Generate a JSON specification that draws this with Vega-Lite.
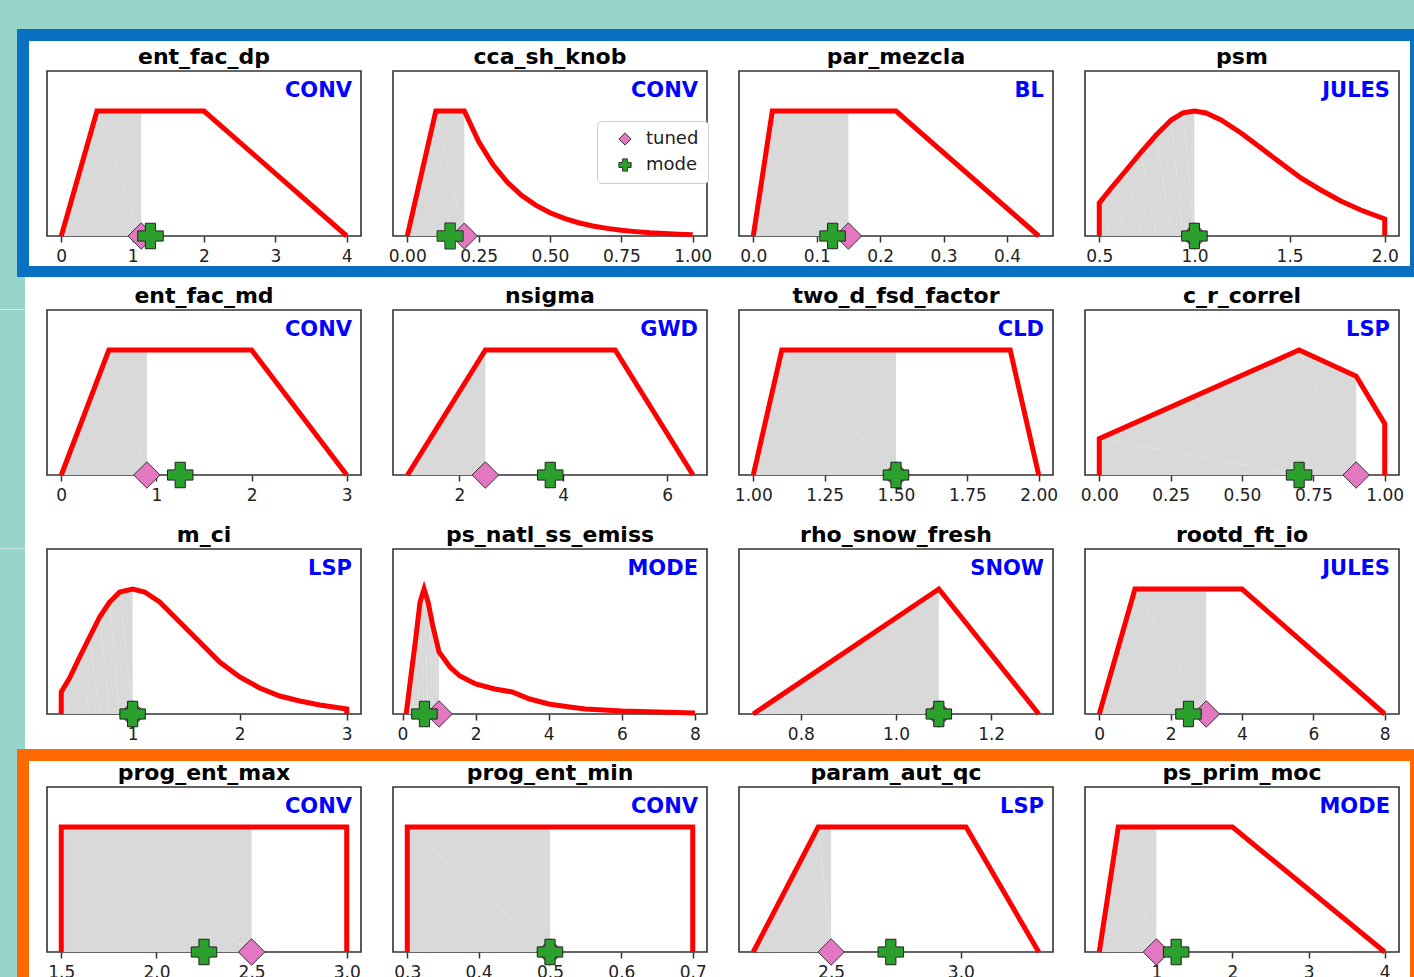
{
"$schema": "https://vega.github.io/schema/vega-lite/v6.json",
"padding": 0,
"background": "#ffffff",
"columns": 12,
"spacing": 0,
"bounds": "flush",
"align": "each",
"config": {
  "font": "DejaVu Sans",
  "view": {"stroke": "#333333", "strokeWidth": 1.6},
  "title": {"fontSize": 22, "fontWeight": "bold", "font": "DejaVu Sans", "color": "#000000", "offset": 2, "anchor": "middle"},
  "axis": {"domain": false, "grid": false, "tickSize": 6, "tickWidth": 1.5, "tickColor": "#333333", "labelFontSize": 17, "labelFont": "DejaVu Sans", "labelColor": "#222222", "labelPadding": 6, "title": null, "labelFlush": false, "labelOverlap": false, "labelBound": false}
},
"datasets": {
  "curves": [
    {"p":"ent_fac_dp","i":0,"x":0,"y":0},{"p":"ent_fac_dp","i":1,"x":0.5,"y":1},{"p":"ent_fac_dp","i":2,"x":1.12,"y":1},{"p":"ent_fac_dp","i":3,"x":2,"y":1},{"p":"ent_fac_dp","i":4,"x":4,"y":0},
    {"p":"cca_sh_knob","i":0,"x":0,"y":0},{"p":"cca_sh_knob","i":1,"x":0.1,"y":1},{"p":"cca_sh_knob","i":2,"x":0.2,"y":1},{"p":"cca_sh_knob","i":3,"x":0.25,"y":0.756},{"p":"cca_sh_knob","i":4,"x":0.3,"y":0.571},{"p":"cca_sh_knob","i":5,"x":0.35,"y":0.432},{"p":"cca_sh_knob","i":6,"x":0.4,"y":0.326},{"p":"cca_sh_knob","i":7,"x":0.45,"y":0.247},{"p":"cca_sh_knob","i":8,"x":0.5,"y":0.186},{"p":"cca_sh_knob","i":9,"x":0.55,"y":0.141},{"p":"cca_sh_knob","i":10,"x":0.6,"y":0.106},{"p":"cca_sh_knob","i":11,"x":0.65,"y":0.08},{"p":"cca_sh_knob","i":12,"x":0.7,"y":0.061},{"p":"cca_sh_knob","i":13,"x":0.75,"y":0.046},{"p":"cca_sh_knob","i":14,"x":0.8,"y":0.035},{"p":"cca_sh_knob","i":15,"x":0.85,"y":0.026},{"p":"cca_sh_knob","i":16,"x":0.9,"y":0.02},{"p":"cca_sh_knob","i":17,"x":0.95,"y":0.015},{"p":"cca_sh_knob","i":18,"x":1.0,"y":0.011},
    {"p":"par_mezcla","i":0,"x":0,"y":0},{"p":"par_mezcla","i":1,"x":0.03,"y":1},{"p":"par_mezcla","i":2,"x":0.15,"y":1},{"p":"par_mezcla","i":3,"x":0.225,"y":1},{"p":"par_mezcla","i":4,"x":0.45,"y":0},
    {"p":"psm","i":0,"x":0.5,"y":0},{"p":"psm","i":1,"x":0.5,"y":0.264},{"p":"psm","i":2,"x":0.563,"y":0.384},{"p":"psm","i":3,"x":0.642,"y":0.528},{"p":"psm","i":4,"x":0.72,"y":0.672},{"p":"psm","i":5,"x":0.799,"y":0.808},{"p":"psm","i":6,"x":0.878,"y":0.928},{"p":"psm","i":7,"x":0.94,"y":0.985},{"p":"psm","i":8,"x":1.0,"y":1.0},{"p":"psm","i":9,"x":1.061,"y":0.984},{"p":"psm","i":10,"x":1.14,"y":0.928},{"p":"psm","i":11,"x":1.245,"y":0.824},{"p":"psm","i":12,"x":1.35,"y":0.704},{"p":"psm","i":13,"x":1.454,"y":0.584},{"p":"psm","i":14,"x":1.559,"y":0.464},{"p":"psm","i":15,"x":1.664,"y":0.368},{"p":"psm","i":16,"x":1.769,"y":0.28},{"p":"psm","i":17,"x":1.874,"y":0.208},{"p":"psm","i":18,"x":2.0,"y":0.136},{"p":"psm","i":19,"x":2.0,"y":0},
    {"p":"ent_fac_md","i":0,"x":0,"y":0},{"p":"ent_fac_md","i":1,"x":0.5,"y":1},{"p":"ent_fac_md","i":2,"x":0.9,"y":1},{"p":"ent_fac_md","i":3,"x":2,"y":1},{"p":"ent_fac_md","i":4,"x":3,"y":0},
    {"p":"nsigma","i":0,"x":1,"y":0},{"p":"nsigma","i":1,"x":2.5,"y":1},{"p":"nsigma","i":2,"x":5,"y":1},{"p":"nsigma","i":3,"x":6.5,"y":0},
    {"p":"two_d_fsd_factor","i":0,"x":1,"y":0},{"p":"two_d_fsd_factor","i":1,"x":1.1,"y":1},{"p":"two_d_fsd_factor","i":2,"x":1.5,"y":1},{"p":"two_d_fsd_factor","i":3,"x":1.9,"y":1},{"p":"two_d_fsd_factor","i":4,"x":2,"y":0},
    {"p":"c_r_correl","i":0,"x":0,"y":0},{"p":"c_r_correl","i":1,"x":0,"y":0.29},{"p":"c_r_correl","i":2,"x":0.7,"y":1},{"p":"c_r_correl","i":3,"x":0.9,"y":0.79},{"p":"c_r_correl","i":4,"x":1,"y":0.41},{"p":"c_r_correl","i":5,"x":1,"y":0},
    {"p":"m_ci","i":0,"x":0.333,"y":0},{"p":"m_ci","i":1,"x":0.333,"y":0.176},{"p":"m_ci","i":2,"x":0.411,"y":0.288},{"p":"m_ci","i":3,"x":0.505,"y":0.456},{"p":"m_ci","i":4,"x":0.598,"y":0.616},{"p":"m_ci","i":5,"x":0.692,"y":0.776},{"p":"m_ci","i":6,"x":0.785,"y":0.896},{"p":"m_ci","i":7,"x":0.879,"y":0.976},{"p":"m_ci","i":8,"x":1.0,"y":1.0},{"p":"m_ci","i":9,"x":1.112,"y":0.976},{"p":"m_ci","i":10,"x":1.252,"y":0.896},{"p":"m_ci","i":11,"x":1.439,"y":0.736},{"p":"m_ci","i":12,"x":1.626,"y":0.576},{"p":"m_ci","i":13,"x":1.813,"y":0.416},{"p":"m_ci","i":14,"x":2.0,"y":0.296},{"p":"m_ci","i":15,"x":2.187,"y":0.208},{"p":"m_ci","i":16,"x":2.374,"y":0.144},{"p":"m_ci","i":17,"x":2.561,"y":0.104},{"p":"m_ci","i":18,"x":2.748,"y":0.072},{"p":"m_ci","i":19,"x":3.0,"y":0.04},{"p":"m_ci","i":20,"x":3.0,"y":0},
    {"p":"ps_natl_ss_emiss","i":0,"x":0.1,"y":0},{"p":"ps_natl_ss_emiss","i":1,"x":0.21,"y":0.256},{"p":"ps_natl_ss_emiss","i":2,"x":0.35,"y":0.576},{"p":"ps_natl_ss_emiss","i":3,"x":0.48,"y":0.896},{"p":"ps_natl_ss_emiss","i":4,"x":0.59,"y":1.0},{"p":"ps_natl_ss_emiss","i":5,"x":0.7,"y":0.896},{"p":"ps_natl_ss_emiss","i":6,"x":0.83,"y":0.704},{"p":"ps_natl_ss_emiss","i":7,"x":1.0,"y":0.496},{"p":"ps_natl_ss_emiss","i":8,"x":1.3,"y":0.376},{"p":"ps_natl_ss_emiss","i":9,"x":1.57,"y":0.304},{"p":"ps_natl_ss_emiss","i":10,"x":2.0,"y":0.24},{"p":"ps_natl_ss_emiss","i":11,"x":2.52,"y":0.2},{"p":"ps_natl_ss_emiss","i":12,"x":3.0,"y":0.176},{"p":"ps_natl_ss_emiss","i":13,"x":3.48,"y":0.12},{"p":"ps_natl_ss_emiss","i":14,"x":4.0,"y":0.08},{"p":"ps_natl_ss_emiss","i":15,"x":4.57,"y":0.056},{"p":"ps_natl_ss_emiss","i":16,"x":5.0,"y":0.04},{"p":"ps_natl_ss_emiss","i":17,"x":6.0,"y":0.024},{"p":"ps_natl_ss_emiss","i":18,"x":7.0,"y":0.016},{"p":"ps_natl_ss_emiss","i":19,"x":8.0,"y":0.008},
    {"p":"rho_snow_fresh","i":0,"x":0.7,"y":0},{"p":"rho_snow_fresh","i":1,"x":1.09,"y":1},{"p":"rho_snow_fresh","i":2,"x":1.3,"y":0},
    {"p":"rootd_ft_io","i":0,"x":0,"y":0},{"p":"rootd_ft_io","i":1,"x":1,"y":1},{"p":"rootd_ft_io","i":2,"x":3,"y":1},{"p":"rootd_ft_io","i":3,"x":4,"y":1},{"p":"rootd_ft_io","i":4,"x":8,"y":0},
    {"p":"prog_ent_max","i":0,"x":1.5,"y":0},{"p":"prog_ent_max","i":1,"x":1.5,"y":1},{"p":"prog_ent_max","i":2,"x":2.5,"y":1},{"p":"prog_ent_max","i":3,"x":3,"y":1},{"p":"prog_ent_max","i":4,"x":3,"y":0},
    {"p":"prog_ent_min","i":0,"x":0.3,"y":0},{"p":"prog_ent_min","i":1,"x":0.3,"y":1},{"p":"prog_ent_min","i":2,"x":0.5,"y":1},{"p":"prog_ent_min","i":3,"x":0.7,"y":1},{"p":"prog_ent_min","i":4,"x":0.7,"y":0},
    {"p":"param_aut_qc","i":0,"x":2.2,"y":0},{"p":"param_aut_qc","i":1,"x":2.45,"y":1},{"p":"param_aut_qc","i":2,"x":2.5,"y":1},{"p":"param_aut_qc","i":3,"x":3.02,"y":1},{"p":"param_aut_qc","i":4,"x":3.3,"y":0},
    {"p":"ps_prim_moc","i":0,"x":0.25,"y":0},{"p":"ps_prim_moc","i":1,"x":0.5,"y":1},{"p":"ps_prim_moc","i":2,"x":1,"y":1},{"p":"ps_prim_moc","i":3,"x":2,"y":1},{"p":"ps_prim_moc","i":4,"x":4,"y":0}
  ],
  "marks": [
    {"p":"ent_fac_dp","k":"tuned","x":1.12},{"p":"ent_fac_dp","k":"mode","x":1.25},
    {"p":"cca_sh_knob","k":"tuned","x":0.2},{"p":"cca_sh_knob","k":"mode","x":0.15},
    {"p":"par_mezcla","k":"tuned","x":0.15},{"p":"par_mezcla","k":"mode","x":0.125},
    {"p":"psm","k":"tuned","x":1.0},{"p":"psm","k":"mode","x":1.0},
    {"p":"ent_fac_md","k":"tuned","x":0.9},{"p":"ent_fac_md","k":"mode","x":1.25},
    {"p":"nsigma","k":"tuned","x":2.5},{"p":"nsigma","k":"mode","x":3.75},
    {"p":"two_d_fsd_factor","k":"tuned","x":1.5},{"p":"two_d_fsd_factor","k":"mode","x":1.5},
    {"p":"c_r_correl","k":"tuned","x":0.9},{"p":"c_r_correl","k":"mode","x":0.7},
    {"p":"m_ci","k":"tuned","x":1.0},{"p":"m_ci","k":"mode","x":1.0},
    {"p":"ps_natl_ss_emiss","k":"tuned","x":1.0},{"p":"ps_natl_ss_emiss","k":"mode","x":0.6},
    {"p":"rho_snow_fresh","k":"tuned","x":1.09},{"p":"rho_snow_fresh","k":"mode","x":1.09},
    {"p":"rootd_ft_io","k":"tuned","x":3.0},{"p":"rootd_ft_io","k":"mode","x":2.5},
    {"p":"prog_ent_max","k":"tuned","x":2.5},{"p":"prog_ent_max","k":"mode","x":2.25},
    {"p":"prog_ent_min","k":"tuned","x":0.5},{"p":"prog_ent_min","k":"mode","x":0.5},
    {"p":"param_aut_qc","k":"tuned","x":2.5},{"p":"param_aut_qc","k":"mode","x":2.73},
    {"p":"ps_prim_moc","k":"tuned","x":1.0},{"p":"ps_prim_moc","k":"mode","x":1.26}
  ],
  "mods": [
    {"p":"ent_fac_dp","m":"CONV"},{"p":"cca_sh_knob","m":"CONV"},{"p":"par_mezcla","m":"BL"},{"p":"psm","m":"JULES"},
    {"p":"ent_fac_md","m":"CONV"},{"p":"nsigma","m":"GWD"},{"p":"two_d_fsd_factor","m":"CLD"},{"p":"c_r_correl","m":"LSP"},
    {"p":"m_ci","m":"LSP"},{"p":"ps_natl_ss_emiss","m":"MODE"},{"p":"rho_snow_fresh","m":"SNOW"},{"p":"rootd_ft_io","m":"JULES"},
    {"p":"prog_ent_max","m":"CONV"},{"p":"prog_ent_min","m":"CONV"},{"p":"param_aut_qc","m":"LSP"},{"p":"ps_prim_moc","m":"MODE"}
  ],
  "one": [{"u":1}]
},
"concat": [
  {"width":17,"height":29,"data":{"name":"one"},"mark":{"type":"point","opacity":0},"view":{"stroke":null,"fill":"#97d5cb"}},
  {"width":12,"height":29,"data":{"name":"one"},"mark":{"type":"point","opacity":0},"view":{"stroke":null,"fill":"#97d5cb"}},
  {"width":18,"height":29,"data":{"name":"one"},"mark":{"type":"point","opacity":0},"view":{"stroke":null,"fill":"#97d5cb"}},
  {"width":314,"height":29,"data":{"name":"one"},"mark":{"type":"point","opacity":0},"view":{"stroke":null,"fill":"#97d5cb"}},
  {"width":32,"height":29,"data":{"name":"one"},"mark":{"type":"point","opacity":0},"view":{"stroke":null,"fill":"#97d5cb"}},
  {"width":314,"height":29,"data":{"name":"one"},"mark":{"type":"point","opacity":0},"view":{"stroke":null,"fill":"#97d5cb"}},
  {"width":32,"height":29,"data":{"name":"one"},"mark":{"type":"point","opacity":0},"view":{"stroke":null,"fill":"#97d5cb"}},
  {"width":314,"height":29,"data":{"name":"one"},"mark":{"type":"point","opacity":0},"view":{"stroke":null,"fill":"#97d5cb"}},
  {"width":32,"height":29,"data":{"name":"one"},"mark":{"type":"point","opacity":0},"view":{"stroke":null,"fill":"#97d5cb"}},
  {"width":314,"height":29,"data":{"name":"one"},"mark":{"type":"point","opacity":0},"view":{"stroke":null,"fill":"#97d5cb"}},
  {"width":11,"height":29,"data":{"name":"one"},"mark":{"type":"point","opacity":0},"view":{"stroke":null,"fill":"#97d5cb"}},
  {"width":4,"height":29,"data":{"name":"one"},"mark":{"type":"point","opacity":0},"view":{"stroke":null,"fill":"#97d5cb"}},

  {"width":17,"height":12,"data":{"name":"one"},"mark":{"type":"point","opacity":0},"view":{"stroke":null,"fill":"#97d5cb"}},
  {"width":12,"height":12,"data":{"name":"one"},"mark":{"type":"point","opacity":0},"view":{"stroke":null,"fill":"#0a70c2"}},
  {"width":18,"height":12,"data":{"name":"one"},"mark":{"type":"point","opacity":0},"view":{"stroke":null,"fill":"#0a70c2"}},
  {"width":314,"height":12,"data":{"name":"one"},"mark":{"type":"point","opacity":0},"view":{"stroke":null,"fill":"#0a70c2"}},
  {"width":32,"height":12,"data":{"name":"one"},"mark":{"type":"point","opacity":0},"view":{"stroke":null,"fill":"#0a70c2"}},
  {"width":314,"height":12,"data":{"name":"one"},"mark":{"type":"point","opacity":0},"view":{"stroke":null,"fill":"#0a70c2"}},
  {"width":32,"height":12,"data":{"name":"one"},"mark":{"type":"point","opacity":0},"view":{"stroke":null,"fill":"#0a70c2"}},
  {"width":314,"height":12,"data":{"name":"one"},"mark":{"type":"point","opacity":0},"view":{"stroke":null,"fill":"#0a70c2"}},
  {"width":32,"height":12,"data":{"name":"one"},"mark":{"type":"point","opacity":0},"view":{"stroke":null,"fill":"#0a70c2"}},
  {"width":314,"height":12,"data":{"name":"one"},"mark":{"type":"point","opacity":0},"view":{"stroke":null,"fill":"#0a70c2"}},
  {"width":11,"height":12,"data":{"name":"one"},"mark":{"type":"point","opacity":0},"view":{"stroke":null,"fill":"#0a70c2"}},
  {"width":4,"height":12,"data":{"name":"one"},"mark":{"type":"point","opacity":0},"view":{"stroke":null,"fill":"#0a70c2"}},

  {"width":17,"height":30,"data":{"name":"one"},"mark":{"type":"point","opacity":0},"view":{"stroke":null,"fill":"#97d5cb"}},
  {"width":12,"height":30,"data":{"name":"one"},"mark":{"type":"point","opacity":0},"view":{"stroke":null,"fill":"#0a70c2"}},
  {"width":1,"height":1,"data":{"name":"one"},"mark":{"type":"point","opacity":0},"view":{"stroke":null}},
  {"width":1,"height":1,"data":{"name":"one"},"mark":{"type":"point","opacity":0},"view":{"stroke":null}},
  {"width":1,"height":1,"data":{"name":"one"},"mark":{"type":"point","opacity":0},"view":{"stroke":null}},
  {"width":1,"height":1,"data":{"name":"one"},"mark":{"type":"point","opacity":0},"view":{"stroke":null}},
  {"width":1,"height":1,"data":{"name":"one"},"mark":{"type":"point","opacity":0},"view":{"stroke":null}},
  {"width":1,"height":1,"data":{"name":"one"},"mark":{"type":"point","opacity":0},"view":{"stroke":null}},
  {"width":1,"height":1,"data":{"name":"one"},"mark":{"type":"point","opacity":0},"view":{"stroke":null}},
  {"width":1,"height":1,"data":{"name":"one"},"mark":{"type":"point","opacity":0},"view":{"stroke":null}},
  {"width":1,"height":1,"data":{"name":"one"},"mark":{"type":"point","opacity":0},"view":{"stroke":null}},
  {"width":4,"height":30,"data":{"name":"one"},"mark":{"type":"point","opacity":0},"view":{"stroke":null,"fill":"#0a70c2"}},

  {"width":17,"height":165,"data":{"name":"one"},"mark":{"type":"point","opacity":0},"view":{"stroke":null,"fill":"#97d5cb"}},
  {"width":12,"height":165,"data":{"name":"one"},"mark":{"type":"point","opacity":0},"view":{"stroke":null,"fill":"#0a70c2"}},
  {"width":1,"height":1,"data":{"name":"one"},"mark":{"type":"point","opacity":0},"view":{"stroke":null}},
  {"width":314,"height":165,"title":"ent_fac_dp","layer":[
    {"data":{"name":"curves"},"transform":[{"filter":"datum.p=='ent_fac_dp' && datum.x<=1.12"}],"mark":{"type":"area","color":"#d9d9d9"},"encoding":{"x":{"field":"x","type":"quantitative","scale":{"domain":[-0.2,4.2],"nice":false,"zero":false},"axis":{"values":[0,1,2,3,4],"format":".0f"}},"y":{"field":"y","type":"quantitative","scale":{"domain":[0,1.32],"nice":false},"axis":null},"order":{"field":"i","type":"quantitative"}}},
    {"data":{"name":"curves"},"transform":[{"filter":"datum.p=='ent_fac_dp'"}],"mark":{"type":"line","color":"#ff0000","strokeWidth":5},"encoding":{"x":{"field":"x","type":"quantitative"},"y":{"field":"y","type":"quantitative"},"order":{"field":"i","type":"quantitative"}}},
    {"data":{"name":"marks"},"transform":[{"filter":"datum.p=='ent_fac_dp' && datum.k=='tuned'"}],"mark":{"type":"point","shape":"diamond","filled":true,"color":"#e377c2","stroke":"#333333","strokeWidth":1,"size":700,"opacity":1},"encoding":{"x":{"field":"x","type":"quantitative"},"y":{"datum":0}}},
    {"data":{"name":"marks"},"transform":[{"filter":"datum.p=='ent_fac_dp' && datum.k=='mode'"}],"mark":{"type":"point","shape":"cross","filled":true,"color":"#2ca02c","stroke":"#222222","strokeWidth":1,"size":650,"opacity":1},"encoding":{"x":{"field":"x","type":"quantitative"},"y":{"datum":0}}},
    {"data":{"name":"mods"},"transform":[{"filter":"datum.p=='ent_fac_dp'"}],"mark":{"type":"text","align":"right","baseline":"top","dx":-9,"dy":9,"fontSize":21,"fontWeight":"bold","color":"#0000ff"},"encoding":{"x":{"datum":4.2},"y":{"datum":1.32},"text":{"field":"m"}}}
  ]},
  {"width":1,"height":1,"data":{"name":"one"},"mark":{"type":"point","opacity":0},"view":{"stroke":null}},
  {"width":314,"height":165,"title":"cca_sh_knob","layer":[
    {"data":{"name":"curves"},"transform":[{"filter":"datum.p=='cca_sh_knob' && datum.x<=0.2"}],"mark":{"type":"area","color":"#d9d9d9"},"encoding":{"x":{"field":"x","type":"quantitative","scale":{"domain":[-0.05,1.05],"nice":false,"zero":false},"axis":{"values":[0,0.25,0.5,0.75,1],"format":".2f"}},"y":{"field":"y","type":"quantitative","scale":{"domain":[0,1.32],"nice":false},"axis":null},"order":{"field":"i","type":"quantitative"}}},
    {"data":{"name":"curves"},"transform":[{"filter":"datum.p=='cca_sh_knob'"}],"mark":{"type":"line","color":"#ff0000","strokeWidth":5},"encoding":{"x":{"field":"x","type":"quantitative"},"y":{"field":"y","type":"quantitative"},"order":{"field":"i","type":"quantitative"}}},
    {"data":{"name":"marks"},"transform":[{"filter":"datum.p=='cca_sh_knob'"}],"mark":{"type":"point","filled":true,"stroke":"#333333","strokeWidth":1,"size":680,"opacity":1},"encoding":{"x":{"field":"x","type":"quantitative"},"y":{"datum":0},
      "color":{"field":"k","type":"nominal","scale":{"domain":["tuned","mode"],"range":["#e377c2","#2ca02c"]},"legend":{"orient":"none","legendX":597,"legendY":121,"title":null,"labelFontSize":18,"labelFont":"DejaVu Sans","labelColor":"#222222","symbolSize":150,"symbolStrokeWidth":1,"symbolStrokeColor":"#333333","strokeColor":"#cccccc","fillColor":"#ffffff","padding":9,"cornerRadius":4,"rowPadding":8,"symbolOffset":10,"labelOffset":12}},
      "shape":{"field":"k","type":"nominal","scale":{"domain":["tuned","mode"],"range":["diamond","cross"]},"legend":{"orient":"none","legendX":597,"legendY":121,"title":null,"labelFontSize":18,"labelFont":"DejaVu Sans","labelColor":"#222222","symbolSize":150,"symbolStrokeWidth":1,"symbolStrokeColor":"#333333","strokeColor":"#cccccc","fillColor":"#ffffff","padding":9,"cornerRadius":4,"rowPadding":8,"symbolOffset":10,"labelOffset":12}}}},
    {"data":{"name":"mods"},"transform":[{"filter":"datum.p=='cca_sh_knob'"}],"mark":{"type":"text","align":"right","baseline":"top","dx":-9,"dy":9,"fontSize":21,"fontWeight":"bold","color":"#0000ff"},"encoding":{"x":{"datum":1.05},"y":{"datum":1.32},"text":{"field":"m"}}}
  ]},
  {"width":1,"height":1,"data":{"name":"one"},"mark":{"type":"point","opacity":0},"view":{"stroke":null}},
  {"width":314,"height":165,"title":"par_mezcla","layer":[
    {"data":{"name":"curves"},"transform":[{"filter":"datum.p=='par_mezcla' && datum.x<=0.15"}],"mark":{"type":"area","color":"#d9d9d9"},"encoding":{"x":{"field":"x","type":"quantitative","scale":{"domain":[-0.0225,0.4725],"nice":false,"zero":false},"axis":{"values":[0,0.1,0.2,0.3,0.4],"format":".1f"}},"y":{"field":"y","type":"quantitative","scale":{"domain":[0,1.32],"nice":false},"axis":null},"order":{"field":"i","type":"quantitative"}}},
    {"data":{"name":"curves"},"transform":[{"filter":"datum.p=='par_mezcla'"}],"mark":{"type":"line","color":"#ff0000","strokeWidth":5},"encoding":{"x":{"field":"x","type":"quantitative"},"y":{"field":"y","type":"quantitative"},"order":{"field":"i","type":"quantitative"}}},
    {"data":{"name":"marks"},"transform":[{"filter":"datum.p=='par_mezcla' && datum.k=='tuned'"}],"mark":{"type":"point","shape":"diamond","filled":true,"color":"#e377c2","stroke":"#333333","strokeWidth":1,"size":700,"opacity":1},"encoding":{"x":{"field":"x","type":"quantitative"},"y":{"datum":0}}},
    {"data":{"name":"marks"},"transform":[{"filter":"datum.p=='par_mezcla' && datum.k=='mode'"}],"mark":{"type":"point","shape":"cross","filled":true,"color":"#2ca02c","stroke":"#222222","strokeWidth":1,"size":650,"opacity":1},"encoding":{"x":{"field":"x","type":"quantitative"},"y":{"datum":0}}},
    {"data":{"name":"mods"},"transform":[{"filter":"datum.p=='par_mezcla'"}],"mark":{"type":"text","align":"right","baseline":"top","dx":-9,"dy":9,"fontSize":21,"fontWeight":"bold","color":"#0000ff"},"encoding":{"x":{"datum":0.4725},"y":{"datum":1.32},"text":{"field":"m"}}}
  ]},
  {"width":1,"height":1,"data":{"name":"one"},"mark":{"type":"point","opacity":0},"view":{"stroke":null}},
  {"width":314,"height":165,"title":"psm","layer":[
    {"data":{"name":"curves"},"transform":[{"filter":"datum.p=='psm' && datum.x<=1.0"}],"mark":{"type":"area","color":"#d9d9d9"},"encoding":{"x":{"field":"x","type":"quantitative","scale":{"domain":[0.425,2.075],"nice":false,"zero":false},"axis":{"values":[0.5,1,1.5,2],"format":".1f"}},"y":{"field":"y","type":"quantitative","scale":{"domain":[0,1.32],"nice":false},"axis":null},"order":{"field":"i","type":"quantitative"}}},
    {"data":{"name":"curves"},"transform":[{"filter":"datum.p=='psm'"}],"mark":{"type":"line","color":"#ff0000","strokeWidth":5},"encoding":{"x":{"field":"x","type":"quantitative"},"y":{"field":"y","type":"quantitative"},"order":{"field":"i","type":"quantitative"}}},
    {"data":{"name":"marks"},"transform":[{"filter":"datum.p=='psm' && datum.k=='tuned'"}],"mark":{"type":"point","shape":"diamond","filled":true,"color":"#e377c2","stroke":"#333333","strokeWidth":1,"size":700,"opacity":1},"encoding":{"x":{"field":"x","type":"quantitative"},"y":{"datum":0}}},
    {"data":{"name":"marks"},"transform":[{"filter":"datum.p=='psm' && datum.k=='mode'"}],"mark":{"type":"point","shape":"cross","filled":true,"color":"#2ca02c","stroke":"#222222","strokeWidth":1,"size":650,"opacity":1},"encoding":{"x":{"field":"x","type":"quantitative"},"y":{"datum":0}}},
    {"data":{"name":"mods"},"transform":[{"filter":"datum.p=='psm'"}],"mark":{"type":"text","align":"right","baseline":"top","dx":-9,"dy":9,"fontSize":21,"fontWeight":"bold","color":"#0000ff"},"encoding":{"x":{"datum":2.075},"y":{"datum":1.32},"text":{"field":"m"}}}
  ]},
  {"width":1,"height":1,"data":{"name":"one"},"mark":{"type":"point","opacity":0},"view":{"stroke":null}},
  {"width":4,"height":165,"data":{"name":"one"},"mark":{"type":"point","opacity":0},"view":{"stroke":null,"fill":"#0a70c2"}},

  {"width":17,"height":30,"data":{"name":"one"},"mark":{"type":"point","opacity":0},"view":{"stroke":null,"fill":"#97d5cb"}},
  {"width":12,"height":30,"data":{"name":"one"},"mark":{"type":"point","opacity":0},"view":{"stroke":null,"fill":"#0a70c2"}},
  {"width":1,"height":1,"data":{"name":"one"},"mark":{"type":"point","opacity":0},"view":{"stroke":null}},
  {"width":1,"height":1,"data":{"name":"one"},"mark":{"type":"point","opacity":0},"view":{"stroke":null}},
  {"width":1,"height":1,"data":{"name":"one"},"mark":{"type":"point","opacity":0},"view":{"stroke":null}},
  {"width":1,"height":1,"data":{"name":"one"},"mark":{"type":"point","opacity":0},"view":{"stroke":null}},
  {"width":1,"height":1,"data":{"name":"one"},"mark":{"type":"point","opacity":0},"view":{"stroke":null}},
  {"width":1,"height":1,"data":{"name":"one"},"mark":{"type":"point","opacity":0},"view":{"stroke":null}},
  {"width":1,"height":1,"data":{"name":"one"},"mark":{"type":"point","opacity":0},"view":{"stroke":null}},
  {"width":1,"height":1,"data":{"name":"one"},"mark":{"type":"point","opacity":0},"view":{"stroke":null}},
  {"width":1,"height":1,"data":{"name":"one"},"mark":{"type":"point","opacity":0},"view":{"stroke":null}},
  {"width":4,"height":30,"data":{"name":"one"},"mark":{"type":"point","opacity":0},"view":{"stroke":null,"fill":"#0a70c2"}},

  {"width":17,"height":11,"data":{"name":"one"},"mark":{"type":"point","opacity":0},"view":{"stroke":null,"fill":"#97d5cb"}},
  {"width":12,"height":11,"data":{"name":"one"},"mark":{"type":"point","opacity":0},"view":{"stroke":null,"fill":"#0a70c2"}},
  {"width":18,"height":11,"data":{"name":"one"},"mark":{"type":"point","opacity":0},"view":{"stroke":null,"fill":"#0a70c2"}},
  {"width":314,"height":11,"data":{"name":"one"},"mark":{"type":"point","opacity":0},"view":{"stroke":null,"fill":"#0a70c2"}},
  {"width":32,"height":11,"data":{"name":"one"},"mark":{"type":"point","opacity":0},"view":{"stroke":null,"fill":"#0a70c2"}},
  {"width":314,"height":11,"data":{"name":"one"},"mark":{"type":"point","opacity":0},"view":{"stroke":null,"fill":"#0a70c2"}},
  {"width":32,"height":11,"data":{"name":"one"},"mark":{"type":"point","opacity":0},"view":{"stroke":null,"fill":"#0a70c2"}},
  {"width":314,"height":11,"data":{"name":"one"},"mark":{"type":"point","opacity":0},"view":{"stroke":null,"fill":"#0a70c2"}},
  {"width":32,"height":11,"data":{"name":"one"},"mark":{"type":"point","opacity":0},"view":{"stroke":null,"fill":"#0a70c2"}},
  {"width":314,"height":11,"data":{"name":"one"},"mark":{"type":"point","opacity":0},"view":{"stroke":null,"fill":"#0a70c2"}},
  {"width":11,"height":11,"data":{"name":"one"},"mark":{"type":"point","opacity":0},"view":{"stroke":null,"fill":"#0a70c2"}},
  {"width":4,"height":11,"data":{"name":"one"},"mark":{"type":"point","opacity":0},"view":{"stroke":null,"fill":"#0a70c2"}},

  {"width":17,"height":32.5,"data":{"name":"one"},"mark":{"type":"point","opacity":0},"view":{"stroke":null,"fill":"#97d5cb"}},
  {"width":8,"height":32.5,"data":{"name":"one"},"mark":{"type":"point","opacity":0},"view":{"stroke":null,"fill":"#97d5cb"}},
  {"width":1,"height":1,"data":{"name":"one"},"mark":{"type":"point","opacity":0},"view":{"stroke":null}},
  {"width":1,"height":1,"data":{"name":"one"},"mark":{"type":"point","opacity":0},"view":{"stroke":null}},
  {"width":1,"height":1,"data":{"name":"one"},"mark":{"type":"point","opacity":0},"view":{"stroke":null}},
  {"width":1,"height":1,"data":{"name":"one"},"mark":{"type":"point","opacity":0},"view":{"stroke":null}},
  {"width":1,"height":1,"data":{"name":"one"},"mark":{"type":"point","opacity":0},"view":{"stroke":null}},
  {"width":1,"height":1,"data":{"name":"one"},"mark":{"type":"point","opacity":0},"view":{"stroke":null}},
  {"width":1,"height":1,"data":{"name":"one"},"mark":{"type":"point","opacity":0},"view":{"stroke":null}},
  {"width":1,"height":1,"data":{"name":"one"},"mark":{"type":"point","opacity":0},"view":{"stroke":null}},
  {"width":1,"height":1,"data":{"name":"one"},"mark":{"type":"point","opacity":0},"view":{"stroke":null}},
  {"width":1,"height":1,"data":{"name":"one"},"mark":{"type":"point","opacity":0},"view":{"stroke":null}},

  {"width":17,"height":165,"data":{"name":"one"},"mark":{"type":"point","opacity":0},"view":{"stroke":null,"fill":"#97d5cb"}},
  {"width":8,"height":165,"data":{"name":"one"},"mark":{"type":"point","opacity":0},"view":{"stroke":null,"fill":"#97d5cb"}},
  {"width":1,"height":1,"data":{"name":"one"},"mark":{"type":"point","opacity":0},"view":{"stroke":null}},
  {"width":314,"height":165,"title":"ent_fac_md","layer":[
    {"data":{"name":"curves"},"transform":[{"filter":"datum.p=='ent_fac_md' && datum.x<=0.9"}],"mark":{"type":"area","color":"#d9d9d9"},"encoding":{"x":{"field":"x","type":"quantitative","scale":{"domain":[-0.15,3.15],"nice":false,"zero":false},"axis":{"values":[0,1,2,3],"format":".0f"}},"y":{"field":"y","type":"quantitative","scale":{"domain":[0,1.32],"nice":false},"axis":null},"order":{"field":"i","type":"quantitative"}}},
    {"data":{"name":"curves"},"transform":[{"filter":"datum.p=='ent_fac_md'"}],"mark":{"type":"line","color":"#ff0000","strokeWidth":5},"encoding":{"x":{"field":"x","type":"quantitative"},"y":{"field":"y","type":"quantitative"},"order":{"field":"i","type":"quantitative"}}},
    {"data":{"name":"marks"},"transform":[{"filter":"datum.p=='ent_fac_md' && datum.k=='tuned'"}],"mark":{"type":"point","shape":"diamond","filled":true,"color":"#e377c2","stroke":"#333333","strokeWidth":1,"size":700,"opacity":1},"encoding":{"x":{"field":"x","type":"quantitative"},"y":{"datum":0}}},
    {"data":{"name":"marks"},"transform":[{"filter":"datum.p=='ent_fac_md' && datum.k=='mode'"}],"mark":{"type":"point","shape":"cross","filled":true,"color":"#2ca02c","stroke":"#222222","strokeWidth":1,"size":650,"opacity":1},"encoding":{"x":{"field":"x","type":"quantitative"},"y":{"datum":0}}},
    {"data":{"name":"mods"},"transform":[{"filter":"datum.p=='ent_fac_md'"}],"mark":{"type":"text","align":"right","baseline":"top","dx":-9,"dy":9,"fontSize":21,"fontWeight":"bold","color":"#0000ff"},"encoding":{"x":{"datum":3.15},"y":{"datum":1.32},"text":{"field":"m"}}}
  ]},
  {"width":1,"height":1,"data":{"name":"one"},"mark":{"type":"point","opacity":0},"view":{"stroke":null}},
  {"width":314,"height":165,"title":"nsigma","layer":[
    {"data":{"name":"curves"},"transform":[{"filter":"datum.p=='nsigma' && datum.x<=2.5"}],"mark":{"type":"area","color":"#d9d9d9"},"encoding":{"x":{"field":"x","type":"quantitative","scale":{"domain":[0.72,6.77],"nice":false,"zero":false},"axis":{"values":[2,4,6],"format":".0f"}},"y":{"field":"y","type":"quantitative","scale":{"domain":[0,1.32],"nice":false},"axis":null},"order":{"field":"i","type":"quantitative"}}},
    {"data":{"name":"curves"},"transform":[{"filter":"datum.p=='nsigma'"}],"mark":{"type":"line","color":"#ff0000","strokeWidth":5},"encoding":{"x":{"field":"x","type":"quantitative"},"y":{"field":"y","type":"quantitative"},"order":{"field":"i","type":"quantitative"}}},
    {"data":{"name":"marks"},"transform":[{"filter":"datum.p=='nsigma' && datum.k=='tuned'"}],"mark":{"type":"point","shape":"diamond","filled":true,"color":"#e377c2","stroke":"#333333","strokeWidth":1,"size":700,"opacity":1},"encoding":{"x":{"field":"x","type":"quantitative"},"y":{"datum":0}}},
    {"data":{"name":"marks"},"transform":[{"filter":"datum.p=='nsigma' && datum.k=='mode'"}],"mark":{"type":"point","shape":"cross","filled":true,"color":"#2ca02c","stroke":"#222222","strokeWidth":1,"size":650,"opacity":1},"encoding":{"x":{"field":"x","type":"quantitative"},"y":{"datum":0}}},
    {"data":{"name":"mods"},"transform":[{"filter":"datum.p=='nsigma'"}],"mark":{"type":"text","align":"right","baseline":"top","dx":-9,"dy":9,"fontSize":21,"fontWeight":"bold","color":"#0000ff"},"encoding":{"x":{"datum":6.77},"y":{"datum":1.32},"text":{"field":"m"}}}
  ]},
  {"width":1,"height":1,"data":{"name":"one"},"mark":{"type":"point","opacity":0},"view":{"stroke":null}},
  {"width":314,"height":165,"title":"two_d_fsd_factor","layer":[
    {"data":{"name":"curves"},"transform":[{"filter":"datum.p=='two_d_fsd_factor' && datum.x<=1.5"}],"mark":{"type":"area","color":"#d9d9d9"},"encoding":{"x":{"field":"x","type":"quantitative","scale":{"domain":[0.95,2.05],"nice":false,"zero":false},"axis":{"values":[1,1.25,1.5,1.75,2],"format":".2f"}},"y":{"field":"y","type":"quantitative","scale":{"domain":[0,1.32],"nice":false},"axis":null},"order":{"field":"i","type":"quantitative"}}},
    {"data":{"name":"curves"},"transform":[{"filter":"datum.p=='two_d_fsd_factor'"}],"mark":{"type":"line","color":"#ff0000","strokeWidth":5},"encoding":{"x":{"field":"x","type":"quantitative"},"y":{"field":"y","type":"quantitative"},"order":{"field":"i","type":"quantitative"}}},
    {"data":{"name":"marks"},"transform":[{"filter":"datum.p=='two_d_fsd_factor' && datum.k=='tuned'"}],"mark":{"type":"point","shape":"diamond","filled":true,"color":"#e377c2","stroke":"#333333","strokeWidth":1,"size":700,"opacity":1},"encoding":{"x":{"field":"x","type":"quantitative"},"y":{"datum":0}}},
    {"data":{"name":"marks"},"transform":[{"filter":"datum.p=='two_d_fsd_factor' && datum.k=='mode'"}],"mark":{"type":"point","shape":"cross","filled":true,"color":"#2ca02c","stroke":"#222222","strokeWidth":1,"size":650,"opacity":1},"encoding":{"x":{"field":"x","type":"quantitative"},"y":{"datum":0}}},
    {"data":{"name":"mods"},"transform":[{"filter":"datum.p=='two_d_fsd_factor'"}],"mark":{"type":"text","align":"right","baseline":"top","dx":-9,"dy":9,"fontSize":21,"fontWeight":"bold","color":"#0000ff"},"encoding":{"x":{"datum":2.05},"y":{"datum":1.32},"text":{"field":"m"}}}
  ]},
  {"width":1,"height":1,"data":{"name":"one"},"mark":{"type":"point","opacity":0},"view":{"stroke":null}},
  {"width":314,"height":165,"title":"c_r_correl","layer":[
    {"data":{"name":"curves"},"transform":[{"filter":"datum.p=='c_r_correl' && datum.x<=0.9"}],"mark":{"type":"area","color":"#d9d9d9"},"encoding":{"x":{"field":"x","type":"quantitative","scale":{"domain":[-0.05,1.05],"nice":false,"zero":false},"axis":{"values":[0,0.25,0.5,0.75,1],"format":".2f"}},"y":{"field":"y","type":"quantitative","scale":{"domain":[0,1.32],"nice":false},"axis":null},"order":{"field":"i","type":"quantitative"}}},
    {"data":{"name":"curves"},"transform":[{"filter":"datum.p=='c_r_correl'"}],"mark":{"type":"line","color":"#ff0000","strokeWidth":5},"encoding":{"x":{"field":"x","type":"quantitative"},"y":{"field":"y","type":"quantitative"},"order":{"field":"i","type":"quantitative"}}},
    {"data":{"name":"marks"},"transform":[{"filter":"datum.p=='c_r_correl' && datum.k=='tuned'"}],"mark":{"type":"point","shape":"diamond","filled":true,"color":"#e377c2","stroke":"#333333","strokeWidth":1,"size":700,"opacity":1},"encoding":{"x":{"field":"x","type":"quantitative"},"y":{"datum":0}}},
    {"data":{"name":"marks"},"transform":[{"filter":"datum.p=='c_r_correl' && datum.k=='mode'"}],"mark":{"type":"point","shape":"cross","filled":true,"color":"#2ca02c","stroke":"#222222","strokeWidth":1,"size":650,"opacity":1},"encoding":{"x":{"field":"x","type":"quantitative"},"y":{"datum":0}}},
    {"data":{"name":"mods"},"transform":[{"filter":"datum.p=='c_r_correl'"}],"mark":{"type":"text","align":"right","baseline":"top","dx":-9,"dy":9,"fontSize":21,"fontWeight":"bold","color":"#0000ff"},"encoding":{"x":{"datum":1.05},"y":{"datum":1.32},"text":{"field":"m"}}}
  ]},
  {"width":1,"height":1,"data":{"name":"one"},"mark":{"type":"point","opacity":0},"view":{"stroke":null}},
  {"width":1,"height":1,"data":{"name":"one"},"mark":{"type":"point","opacity":0},"view":{"stroke":null}},

  {"width":17,"height":73.5,"data":{"name":"one"},"mark":{"type":"point","opacity":0},"view":{"stroke":null,"fill":"#97d5cb"}},
  {"width":8,"height":73.5,"data":{"name":"one"},"mark":{"type":"point","opacity":0},"view":{"stroke":null,"fill":"#97d5cb"}},
  {"width":1,"height":1,"data":{"name":"one"},"mark":{"type":"point","opacity":0},"view":{"stroke":null}},
  {"width":1,"height":1,"data":{"name":"one"},"mark":{"type":"point","opacity":0},"view":{"stroke":null}},
  {"width":1,"height":1,"data":{"name":"one"},"mark":{"type":"point","opacity":0},"view":{"stroke":null}},
  {"width":1,"height":1,"data":{"name":"one"},"mark":{"type":"point","opacity":0},"view":{"stroke":null}},
  {"width":1,"height":1,"data":{"name":"one"},"mark":{"type":"point","opacity":0},"view":{"stroke":null}},
  {"width":1,"height":1,"data":{"name":"one"},"mark":{"type":"point","opacity":0},"view":{"stroke":null}},
  {"width":1,"height":1,"data":{"name":"one"},"mark":{"type":"point","opacity":0},"view":{"stroke":null}},
  {"width":1,"height":1,"data":{"name":"one"},"mark":{"type":"point","opacity":0},"view":{"stroke":null}},
  {"width":1,"height":1,"data":{"name":"one"},"mark":{"type":"point","opacity":0},"view":{"stroke":null}},
  {"width":1,"height":1,"data":{"name":"one"},"mark":{"type":"point","opacity":0},"view":{"stroke":null}},

  {"width":17,"height":165,"data":{"name":"one"},"mark":{"type":"point","opacity":0},"view":{"stroke":null,"fill":"#97d5cb"}},
  {"width":8,"height":165,"data":{"name":"one"},"mark":{"type":"point","opacity":0},"view":{"stroke":null,"fill":"#97d5cb"}},
  {"width":1,"height":1,"data":{"name":"one"},"mark":{"type":"point","opacity":0},"view":{"stroke":null}},
  {"width":314,"height":165,"title":"m_ci","layer":[
    {"data":{"name":"curves"},"transform":[{"filter":"datum.p=='m_ci' && datum.x<=1.0"}],"mark":{"type":"area","color":"#d9d9d9"},"encoding":{"x":{"field":"x","type":"quantitative","scale":{"domain":[0.2,3.133],"nice":false,"zero":false},"axis":{"values":[1,2,3],"format":".0f"}},"y":{"field":"y","type":"quantitative","scale":{"domain":[0,1.32],"nice":false},"axis":null},"order":{"field":"i","type":"quantitative"}}},
    {"data":{"name":"curves"},"transform":[{"filter":"datum.p=='m_ci'"}],"mark":{"type":"line","color":"#ff0000","strokeWidth":5},"encoding":{"x":{"field":"x","type":"quantitative"},"y":{"field":"y","type":"quantitative"},"order":{"field":"i","type":"quantitative"}}},
    {"data":{"name":"marks"},"transform":[{"filter":"datum.p=='m_ci' && datum.k=='tuned'"}],"mark":{"type":"point","shape":"diamond","filled":true,"color":"#e377c2","stroke":"#333333","strokeWidth":1,"size":700,"opacity":1},"encoding":{"x":{"field":"x","type":"quantitative"},"y":{"datum":0}}},
    {"data":{"name":"marks"},"transform":[{"filter":"datum.p=='m_ci' && datum.k=='mode'"}],"mark":{"type":"point","shape":"cross","filled":true,"color":"#2ca02c","stroke":"#222222","strokeWidth":1,"size":650,"opacity":1},"encoding":{"x":{"field":"x","type":"quantitative"},"y":{"datum":0}}},
    {"data":{"name":"mods"},"transform":[{"filter":"datum.p=='m_ci'"}],"mark":{"type":"text","align":"right","baseline":"top","dx":-9,"dy":9,"fontSize":21,"fontWeight":"bold","color":"#0000ff"},"encoding":{"x":{"datum":3.133},"y":{"datum":1.32},"text":{"field":"m"}}}
  ]},
  {"width":1,"height":1,"data":{"name":"one"},"mark":{"type":"point","opacity":0},"view":{"stroke":null}},
  {"width":314,"height":165,"title":"ps_natl_ss_emiss","layer":[
    {"data":{"name":"curves"},"transform":[{"filter":"datum.p=='ps_natl_ss_emiss' && datum.x<=1.0"}],"mark":{"type":"area","color":"#d9d9d9"},"encoding":{"x":{"field":"x","type":"quantitative","scale":{"domain":[-0.26,8.33],"nice":false,"zero":false},"axis":{"values":[0,2,4,6,8],"format":".0f"}},"y":{"field":"y","type":"quantitative","scale":{"domain":[0,1.32],"nice":false},"axis":null},"order":{"field":"i","type":"quantitative"}}},
    {"data":{"name":"curves"},"transform":[{"filter":"datum.p=='ps_natl_ss_emiss'"}],"mark":{"type":"line","color":"#ff0000","strokeWidth":5},"encoding":{"x":{"field":"x","type":"quantitative"},"y":{"field":"y","type":"quantitative"},"order":{"field":"i","type":"quantitative"}}},
    {"data":{"name":"marks"},"transform":[{"filter":"datum.p=='ps_natl_ss_emiss' && datum.k=='tuned'"}],"mark":{"type":"point","shape":"diamond","filled":true,"color":"#e377c2","stroke":"#333333","strokeWidth":1,"size":700,"opacity":1},"encoding":{"x":{"field":"x","type":"quantitative"},"y":{"datum":0}}},
    {"data":{"name":"marks"},"transform":[{"filter":"datum.p=='ps_natl_ss_emiss' && datum.k=='mode'"}],"mark":{"type":"point","shape":"cross","filled":true,"color":"#2ca02c","stroke":"#222222","strokeWidth":1,"size":650,"opacity":1},"encoding":{"x":{"field":"x","type":"quantitative"},"y":{"datum":0}}},
    {"data":{"name":"mods"},"transform":[{"filter":"datum.p=='ps_natl_ss_emiss'"}],"mark":{"type":"text","align":"right","baseline":"top","dx":-9,"dy":9,"fontSize":21,"fontWeight":"bold","color":"#0000ff"},"encoding":{"x":{"datum":8.33},"y":{"datum":1.32},"text":{"field":"m"}}}
  ]},
  {"width":1,"height":1,"data":{"name":"one"},"mark":{"type":"point","opacity":0},"view":{"stroke":null}},
  {"width":314,"height":165,"title":"rho_snow_fresh","layer":[
    {"data":{"name":"curves"},"transform":[{"filter":"datum.p=='rho_snow_fresh' && datum.x<=1.09"}],"mark":{"type":"area","color":"#d9d9d9"},"encoding":{"x":{"field":"x","type":"quantitative","scale":{"domain":[0.67,1.33],"nice":false,"zero":false},"axis":{"values":[0.8,1.0,1.2],"format":".1f"}},"y":{"field":"y","type":"quantitative","scale":{"domain":[0,1.32],"nice":false},"axis":null},"order":{"field":"i","type":"quantitative"}}},
    {"data":{"name":"curves"},"transform":[{"filter":"datum.p=='rho_snow_fresh'"}],"mark":{"type":"line","color":"#ff0000","strokeWidth":5},"encoding":{"x":{"field":"x","type":"quantitative"},"y":{"field":"y","type":"quantitative"},"order":{"field":"i","type":"quantitative"}}},
    {"data":{"name":"marks"},"transform":[{"filter":"datum.p=='rho_snow_fresh' && datum.k=='tuned'"}],"mark":{"type":"point","shape":"diamond","filled":true,"color":"#e377c2","stroke":"#333333","strokeWidth":1,"size":700,"opacity":1},"encoding":{"x":{"field":"x","type":"quantitative"},"y":{"datum":0}}},
    {"data":{"name":"marks"},"transform":[{"filter":"datum.p=='rho_snow_fresh' && datum.k=='mode'"}],"mark":{"type":"point","shape":"cross","filled":true,"color":"#2ca02c","stroke":"#222222","strokeWidth":1,"size":650,"opacity":1},"encoding":{"x":{"field":"x","type":"quantitative"},"y":{"datum":0}}},
    {"data":{"name":"mods"},"transform":[{"filter":"datum.p=='rho_snow_fresh'"}],"mark":{"type":"text","align":"right","baseline":"top","dx":-9,"dy":9,"fontSize":21,"fontWeight":"bold","color":"#0000ff"},"encoding":{"x":{"datum":1.33},"y":{"datum":1.32},"text":{"field":"m"}}}
  ]},
  {"width":1,"height":1,"data":{"name":"one"},"mark":{"type":"point","opacity":0},"view":{"stroke":null}},
  {"width":314,"height":165,"title":"rootd_ft_io","layer":[
    {"data":{"name":"curves"},"transform":[{"filter":"datum.p=='rootd_ft_io' && datum.x<=3.0"}],"mark":{"type":"area","color":"#d9d9d9"},"encoding":{"x":{"field":"x","type":"quantitative","scale":{"domain":[-0.4,8.4],"nice":false,"zero":false},"axis":{"values":[0,2,4,6,8],"format":".0f"}},"y":{"field":"y","type":"quantitative","scale":{"domain":[0,1.32],"nice":false},"axis":null},"order":{"field":"i","type":"quantitative"}}},
    {"data":{"name":"curves"},"transform":[{"filter":"datum.p=='rootd_ft_io'"}],"mark":{"type":"line","color":"#ff0000","strokeWidth":5},"encoding":{"x":{"field":"x","type":"quantitative"},"y":{"field":"y","type":"quantitative"},"order":{"field":"i","type":"quantitative"}}},
    {"data":{"name":"marks"},"transform":[{"filter":"datum.p=='rootd_ft_io' && datum.k=='tuned'"}],"mark":{"type":"point","shape":"diamond","filled":true,"color":"#e377c2","stroke":"#333333","strokeWidth":1,"size":700,"opacity":1},"encoding":{"x":{"field":"x","type":"quantitative"},"y":{"datum":0}}},
    {"data":{"name":"marks"},"transform":[{"filter":"datum.p=='rootd_ft_io' && datum.k=='mode'"}],"mark":{"type":"point","shape":"cross","filled":true,"color":"#2ca02c","stroke":"#222222","strokeWidth":1,"size":650,"opacity":1},"encoding":{"x":{"field":"x","type":"quantitative"},"y":{"datum":0}}},
    {"data":{"name":"mods"},"transform":[{"filter":"datum.p=='rootd_ft_io'"}],"mark":{"type":"text","align":"right","baseline":"top","dx":-9,"dy":9,"fontSize":21,"fontWeight":"bold","color":"#0000ff"},"encoding":{"x":{"datum":8.4},"y":{"datum":1.32},"text":{"field":"m"}}}
  ]},
  {"width":1,"height":1,"data":{"name":"one"},"mark":{"type":"point","opacity":0},"view":{"stroke":null}},
  {"width":1,"height":1,"data":{"name":"one"},"mark":{"type":"point","opacity":0},"view":{"stroke":null}},

  {"width":17,"height":35,"data":{"name":"one"},"mark":{"type":"point","opacity":0},"view":{"stroke":null,"fill":"#97d5cb"}},
  {"width":8,"height":35,"data":{"name":"one"},"mark":{"type":"point","opacity":0},"view":{"stroke":null,"fill":"#97d5cb"}},
  {"width":1,"height":1,"data":{"name":"one"},"mark":{"type":"point","opacity":0},"view":{"stroke":null}},
  {"width":1,"height":1,"data":{"name":"one"},"mark":{"type":"point","opacity":0},"view":{"stroke":null}},
  {"width":1,"height":1,"data":{"name":"one"},"mark":{"type":"point","opacity":0},"view":{"stroke":null}},
  {"width":1,"height":1,"data":{"name":"one"},"mark":{"type":"point","opacity":0},"view":{"stroke":null}},
  {"width":1,"height":1,"data":{"name":"one"},"mark":{"type":"point","opacity":0},"view":{"stroke":null}},
  {"width":1,"height":1,"data":{"name":"one"},"mark":{"type":"point","opacity":0},"view":{"stroke":null}},
  {"width":1,"height":1,"data":{"name":"one"},"mark":{"type":"point","opacity":0},"view":{"stroke":null}},
  {"width":1,"height":1,"data":{"name":"one"},"mark":{"type":"point","opacity":0},"view":{"stroke":null}},
  {"width":1,"height":1,"data":{"name":"one"},"mark":{"type":"point","opacity":0},"view":{"stroke":null}},
  {"width":1,"height":1,"data":{"name":"one"},"mark":{"type":"point","opacity":0},"view":{"stroke":null}},

  {"width":17,"height":12,"data":{"name":"one"},"mark":{"type":"point","opacity":0},"view":{"stroke":null,"fill":"#97d5cb"}},
  {"width":12,"height":12,"data":{"name":"one"},"mark":{"type":"point","opacity":0},"view":{"stroke":null,"fill":"#ff6a00"}},
  {"width":18,"height":12,"data":{"name":"one"},"mark":{"type":"point","opacity":0},"view":{"stroke":null,"fill":"#ff6a00"}},
  {"width":314,"height":12,"data":{"name":"one"},"mark":{"type":"point","opacity":0},"view":{"stroke":null,"fill":"#ff6a00"}},
  {"width":32,"height":12,"data":{"name":"one"},"mark":{"type":"point","opacity":0},"view":{"stroke":null,"fill":"#ff6a00"}},
  {"width":314,"height":12,"data":{"name":"one"},"mark":{"type":"point","opacity":0},"view":{"stroke":null,"fill":"#ff6a00"}},
  {"width":32,"height":12,"data":{"name":"one"},"mark":{"type":"point","opacity":0},"view":{"stroke":null,"fill":"#ff6a00"}},
  {"width":314,"height":12,"data":{"name":"one"},"mark":{"type":"point","opacity":0},"view":{"stroke":null,"fill":"#ff6a00"}},
  {"width":32,"height":12,"data":{"name":"one"},"mark":{"type":"point","opacity":0},"view":{"stroke":null,"fill":"#ff6a00"}},
  {"width":314,"height":12,"data":{"name":"one"},"mark":{"type":"point","opacity":0},"view":{"stroke":null,"fill":"#ff6a00"}},
  {"width":11,"height":12,"data":{"name":"one"},"mark":{"type":"point","opacity":0},"view":{"stroke":null,"fill":"#ff6a00"}},
  {"width":4,"height":12,"data":{"name":"one"},"mark":{"type":"point","opacity":0},"view":{"stroke":null,"fill":"#ff6a00"}},

  {"width":17,"height":26,"data":{"name":"one"},"mark":{"type":"point","opacity":0},"view":{"stroke":null,"fill":"#97d5cb"}},
  {"width":12,"height":26,"data":{"name":"one"},"mark":{"type":"point","opacity":0},"view":{"stroke":null,"fill":"#ff6a00"}},
  {"width":1,"height":1,"data":{"name":"one"},"mark":{"type":"point","opacity":0},"view":{"stroke":null}},
  {"width":1,"height":1,"data":{"name":"one"},"mark":{"type":"point","opacity":0},"view":{"stroke":null}},
  {"width":1,"height":1,"data":{"name":"one"},"mark":{"type":"point","opacity":0},"view":{"stroke":null}},
  {"width":1,"height":1,"data":{"name":"one"},"mark":{"type":"point","opacity":0},"view":{"stroke":null}},
  {"width":1,"height":1,"data":{"name":"one"},"mark":{"type":"point","opacity":0},"view":{"stroke":null}},
  {"width":1,"height":1,"data":{"name":"one"},"mark":{"type":"point","opacity":0},"view":{"stroke":null}},
  {"width":1,"height":1,"data":{"name":"one"},"mark":{"type":"point","opacity":0},"view":{"stroke":null}},
  {"width":1,"height":1,"data":{"name":"one"},"mark":{"type":"point","opacity":0},"view":{"stroke":null}},
  {"width":1,"height":1,"data":{"name":"one"},"mark":{"type":"point","opacity":0},"view":{"stroke":null}},
  {"width":4,"height":26,"data":{"name":"one"},"mark":{"type":"point","opacity":0},"view":{"stroke":null,"fill":"#ff6a00"}},

  {"width":17,"height":165,"data":{"name":"one"},"mark":{"type":"point","opacity":0},"view":{"stroke":null,"fill":"#97d5cb"}},
  {"width":12,"height":165,"data":{"name":"one"},"mark":{"type":"point","opacity":0},"view":{"stroke":null,"fill":"#ff6a00"}},
  {"width":1,"height":1,"data":{"name":"one"},"mark":{"type":"point","opacity":0},"view":{"stroke":null}},
  {"width":314,"height":165,"title":"prog_ent_max","layer":[
    {"data":{"name":"curves"},"transform":[{"filter":"datum.p=='prog_ent_max' && datum.x<=2.5"}],"mark":{"type":"area","color":"#d9d9d9"},"encoding":{"x":{"field":"x","type":"quantitative","scale":{"domain":[1.425,3.075],"nice":false,"zero":false},"axis":{"values":[1.5,2,2.5,3],"format":".1f"}},"y":{"field":"y","type":"quantitative","scale":{"domain":[0,1.32],"nice":false},"axis":null},"order":{"field":"i","type":"quantitative"}}},
    {"data":{"name":"curves"},"transform":[{"filter":"datum.p=='prog_ent_max'"}],"mark":{"type":"line","color":"#ff0000","strokeWidth":5},"encoding":{"x":{"field":"x","type":"quantitative"},"y":{"field":"y","type":"quantitative"},"order":{"field":"i","type":"quantitative"}}},
    {"data":{"name":"marks"},"transform":[{"filter":"datum.p=='prog_ent_max' && datum.k=='tuned'"}],"mark":{"type":"point","shape":"diamond","filled":true,"color":"#e377c2","stroke":"#333333","strokeWidth":1,"size":700,"opacity":1},"encoding":{"x":{"field":"x","type":"quantitative"},"y":{"datum":0}}},
    {"data":{"name":"marks"},"transform":[{"filter":"datum.p=='prog_ent_max' && datum.k=='mode'"}],"mark":{"type":"point","shape":"cross","filled":true,"color":"#2ca02c","stroke":"#222222","strokeWidth":1,"size":650,"opacity":1},"encoding":{"x":{"field":"x","type":"quantitative"},"y":{"datum":0}}},
    {"data":{"name":"mods"},"transform":[{"filter":"datum.p=='prog_ent_max'"}],"mark":{"type":"text","align":"right","baseline":"top","dx":-9,"dy":9,"fontSize":21,"fontWeight":"bold","color":"#0000ff"},"encoding":{"x":{"datum":3.075},"y":{"datum":1.32},"text":{"field":"m"}}}
  ]},
  {"width":1,"height":1,"data":{"name":"one"},"mark":{"type":"point","opacity":0},"view":{"stroke":null}},
  {"width":314,"height":165,"title":"prog_ent_min","layer":[
    {"data":{"name":"curves"},"transform":[{"filter":"datum.p=='prog_ent_min' && datum.x<=0.5"}],"mark":{"type":"area","color":"#d9d9d9"},"encoding":{"x":{"field":"x","type":"quantitative","scale":{"domain":[0.28,0.72],"nice":false,"zero":false},"axis":{"values":[0.3,0.4,0.5,0.6,0.7],"format":".1f"}},"y":{"field":"y","type":"quantitative","scale":{"domain":[0,1.32],"nice":false},"axis":null},"order":{"field":"i","type":"quantitative"}}},
    {"data":{"name":"curves"},"transform":[{"filter":"datum.p=='prog_ent_min'"}],"mark":{"type":"line","color":"#ff0000","strokeWidth":5},"encoding":{"x":{"field":"x","type":"quantitative"},"y":{"field":"y","type":"quantitative"},"order":{"field":"i","type":"quantitative"}}},
    {"data":{"name":"marks"},"transform":[{"filter":"datum.p=='prog_ent_min' && datum.k=='tuned'"}],"mark":{"type":"point","shape":"diamond","filled":true,"color":"#e377c2","stroke":"#333333","strokeWidth":1,"size":700,"opacity":1},"encoding":{"x":{"field":"x","type":"quantitative"},"y":{"datum":0}}},
    {"data":{"name":"marks"},"transform":[{"filter":"datum.p=='prog_ent_min' && datum.k=='mode'"}],"mark":{"type":"point","shape":"cross","filled":true,"color":"#2ca02c","stroke":"#222222","strokeWidth":1,"size":650,"opacity":1},"encoding":{"x":{"field":"x","type":"quantitative"},"y":{"datum":0}}},
    {"data":{"name":"mods"},"transform":[{"filter":"datum.p=='prog_ent_min'"}],"mark":{"type":"text","align":"right","baseline":"top","dx":-9,"dy":9,"fontSize":21,"fontWeight":"bold","color":"#0000ff"},"encoding":{"x":{"datum":0.72},"y":{"datum":1.32},"text":{"field":"m"}}}
  ]},
  {"width":1,"height":1,"data":{"name":"one"},"mark":{"type":"point","opacity":0},"view":{"stroke":null}},
  {"width":314,"height":165,"title":"param_aut_qc","layer":[
    {"data":{"name":"curves"},"transform":[{"filter":"datum.p=='param_aut_qc' && datum.x<=2.5"}],"mark":{"type":"area","color":"#d9d9d9"},"encoding":{"x":{"field":"x","type":"quantitative","scale":{"domain":[2.145,3.355],"nice":false,"zero":false},"axis":{"values":[2.5,3.0],"format":".1f"}},"y":{"field":"y","type":"quantitative","scale":{"domain":[0,1.32],"nice":false},"axis":null},"order":{"field":"i","type":"quantitative"}}},
    {"data":{"name":"curves"},"transform":[{"filter":"datum.p=='param_aut_qc'"}],"mark":{"type":"line","color":"#ff0000","strokeWidth":5},"encoding":{"x":{"field":"x","type":"quantitative"},"y":{"field":"y","type":"quantitative"},"order":{"field":"i","type":"quantitative"}}},
    {"data":{"name":"marks"},"transform":[{"filter":"datum.p=='param_aut_qc' && datum.k=='tuned'"}],"mark":{"type":"point","shape":"diamond","filled":true,"color":"#e377c2","stroke":"#333333","strokeWidth":1,"size":700,"opacity":1},"encoding":{"x":{"field":"x","type":"quantitative"},"y":{"datum":0}}},
    {"data":{"name":"marks"},"transform":[{"filter":"datum.p=='param_aut_qc' && datum.k=='mode'"}],"mark":{"type":"point","shape":"cross","filled":true,"color":"#2ca02c","stroke":"#222222","strokeWidth":1,"size":650,"opacity":1},"encoding":{"x":{"field":"x","type":"quantitative"},"y":{"datum":0}}},
    {"data":{"name":"mods"},"transform":[{"filter":"datum.p=='param_aut_qc'"}],"mark":{"type":"text","align":"right","baseline":"top","dx":-9,"dy":9,"fontSize":21,"fontWeight":"bold","color":"#0000ff"},"encoding":{"x":{"datum":3.355},"y":{"datum":1.32},"text":{"field":"m"}}}
  ]},
  {"width":1,"height":1,"data":{"name":"one"},"mark":{"type":"point","opacity":0},"view":{"stroke":null}},
  {"width":314,"height":165,"title":"ps_prim_moc","layer":[
    {"data":{"name":"curves"},"transform":[{"filter":"datum.p=='ps_prim_moc' && datum.x<=1.0"}],"mark":{"type":"area","color":"#d9d9d9"},"encoding":{"x":{"field":"x","type":"quantitative","scale":{"domain":[0.0625,4.1875],"nice":false,"zero":false},"axis":{"values":[1,2,3,4],"format":".0f"}},"y":{"field":"y","type":"quantitative","scale":{"domain":[0,1.32],"nice":false},"axis":null},"order":{"field":"i","type":"quantitative"}}},
    {"data":{"name":"curves"},"transform":[{"filter":"datum.p=='ps_prim_moc'"}],"mark":{"type":"line","color":"#ff0000","strokeWidth":5},"encoding":{"x":{"field":"x","type":"quantitative"},"y":{"field":"y","type":"quantitative"},"order":{"field":"i","type":"quantitative"}}},
    {"data":{"name":"marks"},"transform":[{"filter":"datum.p=='ps_prim_moc' && datum.k=='tuned'"}],"mark":{"type":"point","shape":"diamond","filled":true,"color":"#e377c2","stroke":"#333333","strokeWidth":1,"size":700,"opacity":1},"encoding":{"x":{"field":"x","type":"quantitative"},"y":{"datum":0}}},
    {"data":{"name":"marks"},"transform":[{"filter":"datum.p=='ps_prim_moc' && datum.k=='mode'"}],"mark":{"type":"point","shape":"cross","filled":true,"color":"#2ca02c","stroke":"#222222","strokeWidth":1,"size":650,"opacity":1},"encoding":{"x":{"field":"x","type":"quantitative"},"y":{"datum":0}}},
    {"data":{"name":"mods"},"transform":[{"filter":"datum.p=='ps_prim_moc'"}],"mark":{"type":"text","align":"right","baseline":"top","dx":-9,"dy":9,"fontSize":21,"fontWeight":"bold","color":"#0000ff"},"encoding":{"x":{"datum":4.1875},"y":{"datum":1.32},"text":{"field":"m"}}}
  ]},
  {"width":1,"height":1,"data":{"name":"one"},"mark":{"type":"point","opacity":0},"view":{"stroke":null}},
  {"width":4,"height":165,"data":{"name":"one"},"mark":{"type":"point","opacity":0},"view":{"stroke":null,"fill":"#ff6a00"}},

  {"width":17,"height":26,"data":{"name":"one"},"mark":{"type":"point","opacity":0},"view":{"stroke":null,"fill":"#97d5cb"}},
  {"width":12,"height":26,"data":{"name":"one"},"mark":{"type":"point","opacity":0},"view":{"stroke":null,"fill":"#ff6a00"}},
  {"width":1,"height":1,"data":{"name":"one"},"mark":{"type":"point","opacity":0},"view":{"stroke":null}},
  {"width":1,"height":1,"data":{"name":"one"},"mark":{"type":"point","opacity":0},"view":{"stroke":null}},
  {"width":1,"height":1,"data":{"name":"one"},"mark":{"type":"point","opacity":0},"view":{"stroke":null}},
  {"width":1,"height":1,"data":{"name":"one"},"mark":{"type":"point","opacity":0},"view":{"stroke":null}},
  {"width":1,"height":1,"data":{"name":"one"},"mark":{"type":"point","opacity":0},"view":{"stroke":null}},
  {"width":1,"height":1,"data":{"name":"one"},"mark":{"type":"point","opacity":0},"view":{"stroke":null}},
  {"width":1,"height":1,"data":{"name":"one"},"mark":{"type":"point","opacity":0},"view":{"stroke":null}},
  {"width":1,"height":1,"data":{"name":"one"},"mark":{"type":"point","opacity":0},"view":{"stroke":null}},
  {"width":1,"height":1,"data":{"name":"one"},"mark":{"type":"point","opacity":0},"view":{"stroke":null}},
  {"width":4,"height":26,"data":{"name":"one"},"mark":{"type":"point","opacity":0},"view":{"stroke":null,"fill":"#ff6a00"}}
]
}
